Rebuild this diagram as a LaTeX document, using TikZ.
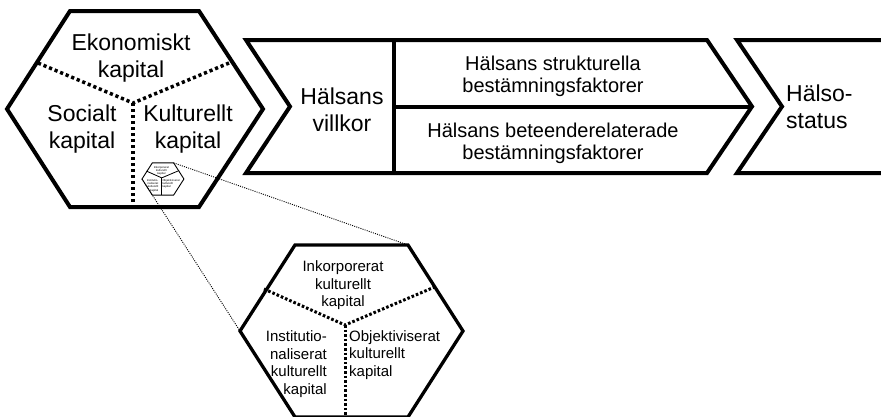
\documentclass[tikz,border=0pt]{standalone}
\usepackage{fontspec}
\setmainfont{Liberation Sans}
\begin{document}
\begin{tikzpicture}[x=1pt,y=-1pt,
  outline/.style={line width=4pt,line join=miter},
  lowoutline/.style={line width=3.3pt,line join=miter},
  bigdots/.style={line width=3.5pt,dash pattern=on 3.2pt off 2.8pt},
  lowdots/.style={line width=3pt,dash pattern=on 2.6pt off 2pt},
  zoomline/.style={line width=0.9pt,dash pattern=on 1pt off 1.2pt},
  bigtxt/.style={font=\fontsize{23}{27}\selectfont,align=center,inner sep=0pt},
  midtxt/.style={font=\fontsize{20}{22}\selectfont,align=center,inner sep=0pt},
  lowtxt/.style={font=\fontsize{15}{17.5}\selectfont,inner sep=0pt}]
\useasboundingbox (0,0) rectangle (881,416);
\fill[white] (0,0) rectangle (881,416);

% ---- big hexagon ----
\coordinate (hL) at (7,109);
\coordinate (hTL) at (70,11);
\coordinate (hTR) at (199,11);
\coordinate (hR) at (263,109);
\coordinate (hBR) at (199,207);
\coordinate (hBL) at (70,207);
\coordinate (hC) at (133,103);
\coordinate (hDL) at (38,63);
\coordinate (hDR) at (229,63);
\coordinate (hDB) at (133,207);
\draw[outline] (hL) -- (hTL) -- (hTR) -- (hR) -- (hBR) -- (hBL) -- cycle;
\draw[bigdots] (hDL) -- (hC) -- (hDR);
\draw[bigdots] (hC) -- (hDB);
\node[bigtxt] (eko) at (131,58.5) {Ekonomiskt\\kapital};
\node[bigtxt] (soc) at (82,129) {Socialt\\kapital};
\node[bigtxt] (kul) at (188,129) {Kulturellt\\kapital};

% ---- chevron 1 ----
\coordinate (c1TL) at (246,40);
\coordinate (c1TR) at (707,40);
\coordinate (c1tip) at (752,106.5);
\coordinate (c1BR) at (707,173);
\coordinate (c1BL) at (246,173);
\coordinate (c1notch) at (290,106.5);
\coordinate (c1divT) at (394,40);
\coordinate (c1divB) at (394,173);
\coordinate (c1divM) at (394,106.5);
\draw[outline] (c1TL) -- (c1TR) -- (c1tip) -- (c1BR) -- (c1BL) -- (c1notch) -- cycle;
\draw[outline] (c1divT) -- (c1divB);
\draw[outline] (c1divM) -- (c1tip);
\node[bigtxt] (villkor) at (342,110) {Hälsans\\villkor};
\node[midtxt] (strukt) at (553,76) {Hälsans strukturella\\bestämningsfaktorer};
\node[midtxt] (beteende) at (553,143) {Hälsans beteenderelaterade\\bestämningsfaktorer};

% ---- chevron 2 ----
\coordinate (c2TR) at (884,40);
\coordinate (c2TL) at (737,40);
\coordinate (c2notch) at (782,106.5);
\coordinate (c2BL) at (737,173);
\coordinate (c2BR) at (884,173);
\draw[outline] (c2TR) -- (c2TL) -- (c2notch) -- (c2BL) -- (c2BR);
\node[bigtxt,align=left,anchor=west] (status) at (786,107) {Hälso-\\status};

% ---- lower hexagon ----
\coordinate (lL) at (240,331);
\coordinate (lTL) at (295,245);
\coordinate (lTR) at (408,245);
\coordinate (lR) at (463,331);
\coordinate (lBR) at (408,417);
\coordinate (lBL) at (295,417);
\coordinate (lC) at (345,325);
\coordinate (lDL) at (264,289);
\coordinate (lDR) at (437,286);
\coordinate (lDB) at (345,416);
\draw[lowoutline] (lL) -- (lTL) -- (lTR) -- (lR) -- (lBR) -- (lBL) -- cycle;
\draw[lowdots] (lDL) -- (lC) -- (lDR);
\draw[lowdots] (lC) -- (lDB);
\node[lowtxt,align=center] (inkorp) at (343,285.5) {Inkorporerat\\kulturellt\\kapital};
\node[lowtxt,align=right,anchor=east] (inst) at (327,364) {Institutio-\\naliserat\\kulturellt\\kapital};
\node[lowtxt,align=left,anchor=west] (obj) at (349,355) {Objektiviserat\\kulturellt\\kapital};

% ---- miniature hexagon ----
\begin{scope}[shift={(142,179)},scale=0.188]
  \coordinate (mL) at (0,0);
  \coordinate (mTL) at (55,-86);
  \coordinate (mTR) at (168,-86);
  \coordinate (mR) at (223,0);
  \coordinate (mBR) at (168,86);
  \coordinate (mBL) at (55,86);
  \coordinate (mC) at (105,-6);
  \coordinate (mDL) at (24,-42);
  \coordinate (mDR) at (197,-45);
  \coordinate (mDB) at (105,86);
  \draw[line width=0.9pt] (mL) -- (mTL) -- (mTR) -- (mR) -- (mBR) -- (mBL) -- cycle;
  \draw[line width=0.8pt] (mDL) -- (mC) -- (mDR);
  \draw[line width=0.8pt] (mC) -- (mDB);
  \begin{scope}[transform shape]
    \node[lowtxt,align=center] (minkorp) at (103,-44.5) {Inkorporerat\\kulturellt\\kapital};
    \node[lowtxt,align=right,anchor=east] (minst) at (87,34) {Institutio-\\naliserat\\kulturellt\\kapital};
    \node[lowtxt,align=left,anchor=west] (mobj) at (109,25) {Objektiviserat\\kulturellt\\kapital};
  \end{scope}
\end{scope}

% ---- zoom connectors ----
\draw[zoomline] (mTR) -- (lTR);
\draw[zoomline] (mL) -- (lL);
\end{tikzpicture}
\end{document}
